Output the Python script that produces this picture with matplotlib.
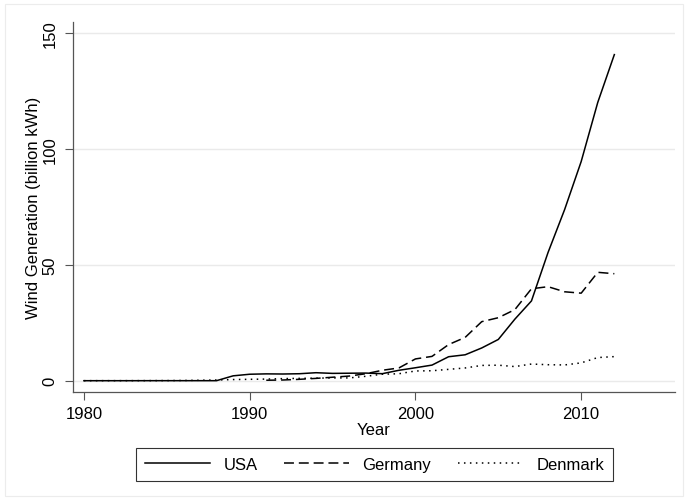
import numpy as np
import matplotlib
matplotlib.use('Agg')
import matplotlib.pyplot as plt
import matplotlib.patches as patches

plt.rcParams['font.family'] = ['Liberation Sans', 'DejaVu Sans']

# wind generation, billion kWh
years_usa = list(range(1980, 2013))
usa = [0.0, 0.0, 0.0, 0.0, 0.01, 0.01, 0.01, 0.01, 0.01, 2.1, 2.79, 2.95, 2.89, 3.01, 3.45,
       3.16, 3.23, 3.29, 3.03, 4.49, 5.59, 6.74, 10.35, 11.19, 14.14, 17.81, 26.59, 34.45,
       55.36, 73.89, 94.65, 120.18, 140.82]

years_ger = list(range(1991, 2013))
germany = [0.2, 0.3, 0.6, 1.0, 1.5, 2.0, 3.0, 4.5, 5.5, 9.4, 10.5, 15.6, 18.7, 25.5, 27.2,
           30.7, 39.7, 40.6, 38.4, 37.8, 46.8, 46.2]

years_den = list(range(1980, 2013))
denmark = [0.01, 0.02, 0.02, 0.03, 0.04, 0.06, 0.1, 0.2, 0.3, 0.5, 0.6, 0.7, 0.9, 1.0, 1.1,
           1.2, 1.2, 1.9, 2.8, 3.0, 4.2, 4.3, 4.9, 5.5, 6.6, 6.7, 6.1, 7.2, 6.9, 6.8, 7.7,
           10.0, 10.4]

xticks = [1980, 1990, 2000, 2010]
yticks = [0, 50, 100, 150]

fig = plt.figure(figsize=(6.88, 5.02), dpi=100)
fig.patch.set_facecolor('white')
# faint outer frame
fig.add_artist(patches.Rectangle((5/688, 5/502), 678/688, 492/502, transform=fig.transFigure,
                                 fill=False, edgecolor='#ececec', lw=0.8))

ax = fig.add_axes([73/688, 1 - 392.7/502, (675 - 73)/688, (392.7 - 23)/502])

ax.plot(years_usa, usa, color='black', lw=1.1, label='USA')
ax.plot(years_ger, germany, color='black', lw=1.1, dashes=(6.5, 3.2), label='Germany')
ax.plot(years_den, denmark, color='black', lw=1.1, dashes=(1.0, 2.9), label='Denmark')

ax.set_xlim(1979.34, 2015.66)
ax.set_ylim(-4.75, 154.9)
ax.set_xticks(xticks)
ax.set_yticks(yticks)
ax.set_yticklabels([str(t) for t in yticks], rotation=90, va='center')
ax.tick_params(axis='both', direction='out', length=6, width=0.8, color='#555555',
               labelsize=12, pad=4)
ax.tick_params(axis='y', pad=5)

for s in ['top', 'right']:
    ax.spines[s].set_visible(False)
for s in ['left', 'bottom']:
    ax.spines[s].set_color('#555555')
    ax.spines[s].set_linewidth(0.9)

ax.yaxis.grid(True, color='#eaeaea', lw=1.0)
ax.set_axisbelow(True)

ax.set_xlabel('Year', fontsize=12, labelpad=1)
ax.set_ylabel('Wind Generation (billion kWh)', fontsize=12, labelpad=1)

leg = fig.legend(loc='center', bbox_to_anchor=(374.5/688, 1 - 465.5/502), ncol=3,
                 fontsize=12, handlelength=3.9, handletextpad=0.8, columnspacing=1.6,
                 frameon=True, fancybox=False, borderpad=0.55, borderaxespad=0)
leg.get_frame().set_edgecolor('black')
leg.get_frame().set_linewidth(0.8)

fig.savefig('out.png', dpi=100)
